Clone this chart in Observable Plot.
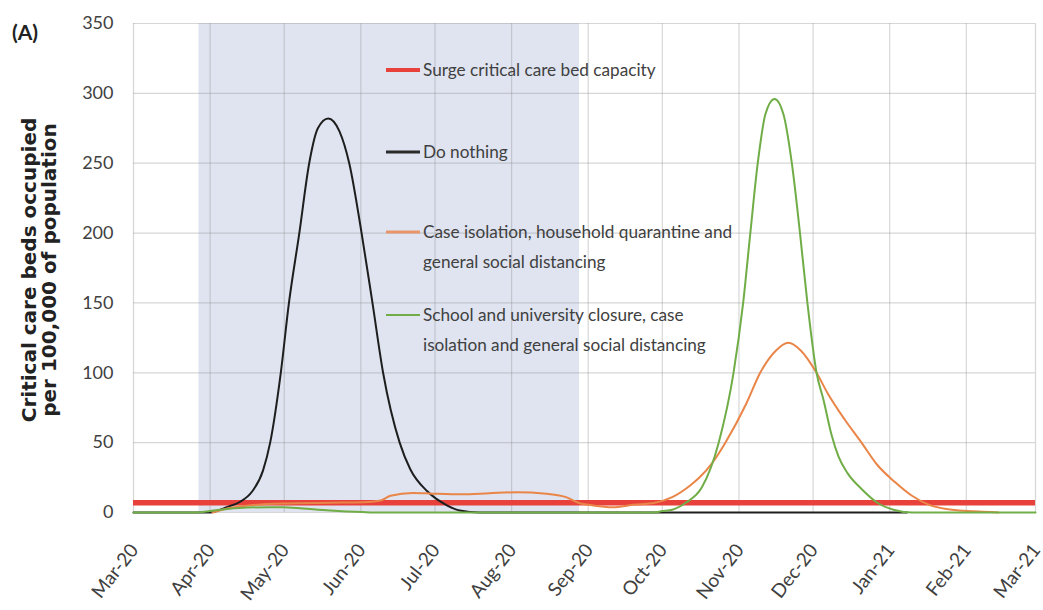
<!DOCTYPE html>
<html>
<head>
<meta charset="utf-8">
<script src="https://cdn.jsdelivr.net/npm/d3@7"></script>
<script src="https://cdn.jsdelivr.net/npm/@observablehq/plot@0.6"></script>
<style>
  body { margin: 0; background: #fff; }
  #chart { width: 1043px; height: 610px; }
</style>
</head>
<body>
<div id="chart"></div>
<script>
// Days are counted from 1 March 2020.
const startDate = new Date(Date.UTC(2020, 2, 1));
const endDate = new Date(Date.UTC(2021, 2, 1));

// Do nothing
const doNothingDays = [0, 31, 38, 43, 48, 52.4, 55.3, 59.6, 62.9, 67.1, 71.1, 74.6, 78.8, 83.3, 87.3, 92.3, 96.7, 101, 107.7, 112, 119, 127, 132, 140, 313];
const doNothingValues = [0, 0, 4, 7.5, 15, 30, 50, 100, 150, 200, 250, 275, 282, 273, 250, 200, 150, 100, 50, 31, 15, 5, 1.4, 0, 0];

// Case isolation, household quarantine and general social distancing
const caseIsolationDays = [32, 40, 60, 80, 93, 100, 104, 113, 121, 133, 144, 155, 167, 175, 180, 186, 194, 202, 211, 218, 225, 229, 234, 239.5, 248, 253.6, 260, 265, 270, 276.4, 281, 288, 294.6, 301, 308, 315, 322, 334, 347, 350];
const caseIsolationValues = [0, 3.5, 6.5, 7, 7.3, 8.6, 12, 14, 13.5, 13, 13.8, 14.5, 13.5, 11, 7, 5, 3.7, 5.5, 7, 11, 19, 25, 35, 50, 78, 100, 116, 121.5, 116, 100, 85, 66, 50, 34, 22, 12, 5.5, 1.4, 0.3, 0];

// School and university closure, case isolation and general social distancing
const schoolClosureDays = [0, 24, 35, 46, 60.5, 68.6, 79.5, 92.8, 100, 210, 214, 218, 223.5, 230, 236.8, 242.8, 246.7, 249.6, 252.6, 255.7, 259.4, 263, 266.4, 269.7, 272.7, 276.4, 279.3, 282.4, 285.3, 289, 294.5, 301, 307.5, 315, 365];
const schoolClosureValues = [0, 0, 2, 3.6, 3.8, 2.8, 1.4, 0.3, 0, 0, 1, 2, 7, 18, 50, 100, 150, 200, 250, 285, 296, 285, 250, 200, 150, 100, 80, 56, 40, 28, 17, 7, 2, 0, 0];

// Surge critical care bed capacity
const surgeCapacity = 7;

// Shaded period (days)
const shadedStartDay = 26.5;
const shadedEndDay = 180.5;

const yTicks = [0, 50, 100, 150, 200, 250, 300, 350];
const monthTicks = d3.utcMonth.range(startDate, d3.utcDay.offset(endDate, 1));
const monthFormat = d3.utcFormat("%b-%y");

const legendEntries = [
  {lines: ["Surge critical care bed capacity"], color: "#e8413b", width: 4},
  {lines: ["Do nothing"], color: "#2b2b2b", width: 3},
  {lines: ["Case isolation, household quarantine and", "general social distancing"], color: "#e8956a", width: 3},
  {lines: ["School and university closure, case", "isolation and general social distancing"], color: "#70ad47", width: 2}
];

const toDate = d => new Date(startDate.getTime() + d * 864e5);
const series = (days, values) => days.map((d, i) => ({date: toDate(d), value: values[i]}));

const doNothing = series(doNothingDays, doNothingValues);
const caseIsolation = series(caseIsolationDays, caseIsolationValues);
const schoolClosure = series(schoolClosureDays, schoolClosureValues);

const chart = Plot.plot({
  width: 1043,
  height: 610,
  marginTop: 23,
  marginBottom: 98,
  marginLeft: 133,
  marginRight: 8,
  x: {type: "utc", domain: [startDate, endDate], axis: null},
  y: {domain: [0, 350], axis: null},
  style: {fontFamily: "Lato, sans-serif", fontSize: "17px", color: "#404040", background: "#fff"},
  marks: [
    Plot.rect([{x1: toDate(shadedStartDay), x2: toDate(shadedEndDay)}], {
      x1: "x1", x2: "x2", y1: 0, y2: 350, fill: "#dfe4f0"
    }),
    Plot.gridX(monthTicks, {stroke: "#8c8c8c", strokeOpacity: 0.35, strokeWidth: 1.2}),
    Plot.gridY(yTicks, {stroke: "#8c8c8c", strokeOpacity: 0.35, strokeWidth: 1.2}),
    Plot.ruleY([surgeCapacity], {x1: startDate, x2: endDate, stroke: "#e8413b", strokeWidth: 5.5}),
    Plot.line(doNothing, {x: "date", y: "value", stroke: "#1e1e1e", strokeWidth: 2, curve: "monotone-x"}),
    Plot.line(caseIsolation, {x: "date", y: "value", stroke: "#ea8548", strokeWidth: 2, curve: "monotone-x"}),
    Plot.line(schoolClosure, {x: "date", y: "value", stroke: "#70ad47", strokeWidth: 2, curve: "monotone-x"}),
    Plot.axisY(yTicks, {tickSize: 0, tickPadding: 20, fontSize: 18, label: null}),
    Plot.text(monthTicks, {
      x: d => d, frameAnchor: "bottom", text: d => monthFormat(d),
      rotate: -52, textAnchor: "end", lineAnchor: "middle",
      dx: 1, dy: 34, fontSize: 19, fill: "#404040"
    })
  ]
});

document.getElementById("chart").appendChild(chart);

// Legend, y-axis title and panel label drawn into the same SVG
const svg = d3.select(chart);

const legend = svg.append("g")
  .attr("font-family", "Lato, sans-serif")
  .attr("font-size", 17.2)
  .attr("fill", "#404040")
  .attr("text-anchor", "start");
const legendY = [70, 152, 232, 315];
legendEntries.forEach((entry, i) => {
  const y = legendY[i];
  legend.append("line")
    .attr("x1", 386).attr("x2", 420).attr("y1", y).attr("y2", y)
    .attr("stroke", entry.color).attr("stroke-width", entry.width);
  entry.lines.forEach((line, j) => {
    legend.append("text")
      .attr("x", 423).attr("y", y + j * 30)
      .attr("dy", "0.35em")
      .text(line);
  });
});

const title = svg.append("g")
  .attr("font-family", "'DejaVu Sans', sans-serif")
  .attr("font-weight", "bold")
  .attr("font-size", 20)
  .attr("fill", "#222")
  .attr("text-anchor", "middle");
title.append("text").attr("transform", "translate(29,270) rotate(-90)").attr("dy", "0.35em").text("Critical care beds occupied");
title.append("text").attr("transform", "translate(49,270) rotate(-90)").attr("dy", "0.35em").text("per 100,000 of population");

svg.append("text")
  .attr("x", 12).attr("y", 33).attr("dy", "0.35em")
  .attr("text-anchor", "start")
  .attr("font-family", "Lato, sans-serif").attr("font-weight", "bold").attr("font-size", 21)
  .attr("fill", "#222")
  .text("(A)");
</script>
</body>
</html>
